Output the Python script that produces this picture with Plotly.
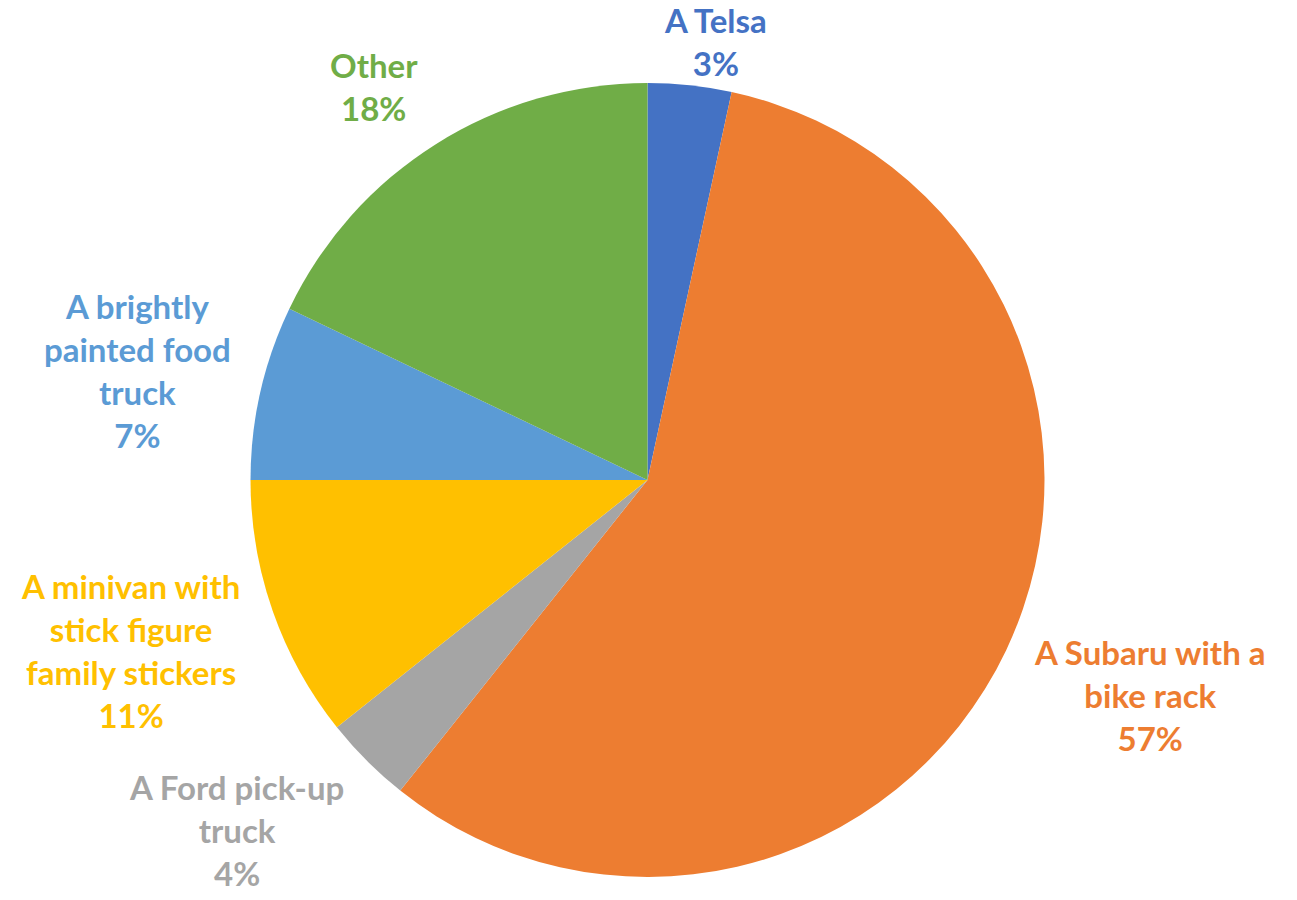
import plotly.graph_objects as go

labels = ["A Telsa", "A Subaru with a<br>bike rack", "A Ford pick-up<br>truck",
          "A minivan with<br>stick figure<br>family stickers",
          "A brightly<br>painted food<br>truck", "Other"]
values = [3.4, 57.3, 3.6, 10.7, 7.1, 17.9]
colors = ["#4472C4", "#ED7D31", "#A5A5A5", "#FFC000", "#5B9BD5", "#70AD47"]
# label block centres (pixels in the 1297x900 canvas)
label_pos = [(715, 42), (1150, 695), (236, 830), (130, 650), (137, 370), (374, 86)]

W, H = 1297, 900
fig = go.Figure(go.Pie(
    labels=labels, values=values, sort=False, direction="clockwise", rotation=0,
    marker=dict(colors=colors, line=dict(width=0)),
    textinfo="none",
    domain=dict(x=[250/W, 1045/W], y=[23/H, 817/H]),
    showlegend=False, hoverinfo="label+percent",
))
total = sum(values)
for lab, v, c, (px, py) in zip(labels, values, colors, label_pos):
    fig.add_annotation(
        x=px / W, y=1 - py / H, xref="paper", yref="paper",
        xanchor="center", yanchor="middle", align="center", showarrow=False,
        text=f"<b>{lab}<br>{round(100 * v / total)}%</b>",
        font=dict(family="Lato", size=33, color=c),
    )
fig.update_layout(width=W, height=H, margin=dict(l=0, r=0, t=0, b=0),
                  paper_bgcolor="white")
fig.write_html("out.html")
